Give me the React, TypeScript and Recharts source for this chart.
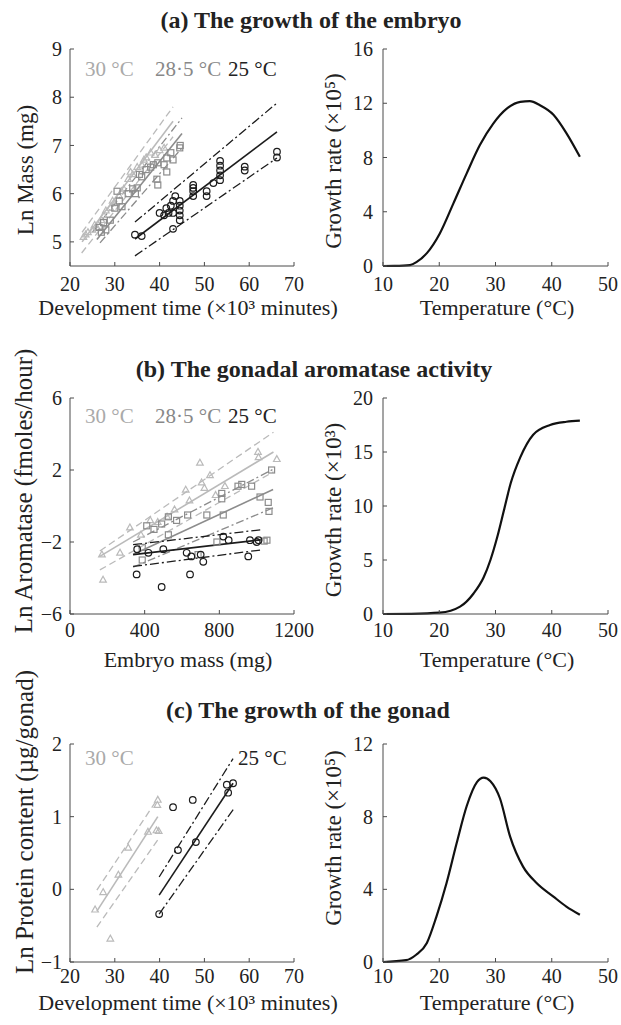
import React from "react";
import { ScatterChart, Scatter, LineChart, Line, XAxis, YAxis } from "recharts";

type Pt = [number, number];

// (a) ln mass vs development time (x10^3 min)
const embryo30: Pt[] = [
  [23, 5.1], [23.5, 5.15], [24, 5.2], [25, 5.25], [25.5, 5.35], [26, 5.3], [27, 5.45],
  [27.5, 5.55], [28, 5.65], [29, 5.7], [29.5, 5.85], [30, 5.8], [31, 5.95], [31.5, 6.05],
  [32, 6.1], [33, 6.3], [33.5, 6.45], [34, 6.4], [35, 6.55], [36, 6.6], [36.5, 6.7],
  [37, 6.75], [38, 6.85], [39, 6.8], [40, 6.9], [41, 6.95],
];
const embryo285: Pt[] = [
  [26.5, 5.3], [27, 5.2], [27.5, 5.4], [28, 5.25], [29, 5.45], [30, 5.7], [30.5, 6.05],
  [31, 5.85], [31.6, 5.73], [33, 6.0], [34, 6.1], [34.6, 6.0], [35, 6.12], [35.5, 6.4],
  [36, 6.35], [37, 6.5], [38, 6.55], [38.6, 6.6], [39.4, 6.3], [39.6, 6.18], [39.6, 6.64],
  [41, 6.6], [41.6, 6.45], [41.6, 6.74], [42.5, 6.85], [43, 6.7], [44.5, 6.95], [44.6, 7.0],
];
const embryo25: Pt[] = [
  [34.5, 5.15], [36, 5.12], [40, 5.6], [41, 5.55], [41.5, 5.7], [42, 5.6], [42.5, 5.75],
  [43, 5.27], [43, 5.6], [43, 5.85], [43.5, 5.95], [44.5, 5.45], [44.5, 5.55], [44.5, 5.65],
  [44.5, 5.75], [44.5, 5.85], [47.5, 5.95], [47.5, 6.05], [47.5, 6.12], [47.5, 6.18],
  [50.5, 5.95], [50.5, 6.05], [52, 6.22], [53.5, 6.28], [53.5, 6.38], [53.5, 6.48],
  [53.5, 6.58], [53.5, 6.68], [59, 6.48], [59, 6.56], [66.2, 6.75], [66.2, 6.87],
];
const embryoFit30: Pt[][] = [[[22.7, 5.2], [43, 7.8]], [[22.7, 5.0], [43, 7.5]], [[22.6, 4.77], [43, 7.18]]];
const embryoFit285: Pt[][] = [[[25, 5.2], [45, 7.57]], [[26, 5.05], [45, 7.25]], [[26.7, 4.98], [45, 6.95]]];
const embryoFit25: Pt[][] = [[[34.5, 5.41], [66.2, 7.88]], [[34.5, 5.06], [66.2, 7.28]], [[34.5, 4.71], [66.2, 6.74]]];

// (b) ln aromatase vs embryo mass (mg)
const arom30: Pt[] = [
  [177, -4.1], [171, -2.7], [268, -2.6], [321, -1.2], [380, -1.6], [430, -0.8], [470, -0.9],
  [520, -0.6], [560, -0.2], [620, 0.9], [640, 0.3], [696, 2.4], [705, 1.3], [720, 1.0],
  [750, 1.7], [780, 0.6], [830, 1.1], [1007, 3.0], [1010, 2.7], [1108, 2.6],
];
const arom285: Pt[] = [
  [387, -2.3], [387, -3.0], [411, -1.1], [450, -1.3], [491, -1.0], [527, -0.6], [527, -1.6],
  [571, -0.8], [630, -0.5], [686, -2.7], [733, -0.5], [787, -2.0], [813, 0.4], [813, 0.7],
  [821, -0.5], [900, 1.1], [920, 1.2], [973, 1.1], [1018, 0.5], [1062, 0.2], [1066, -0.3],
  [1080, 2.0], [1055, -1.9], [1040, -1.95],
];
const arom25: Pt[] = [
  [357, -3.8], [360, -2.4], [420, -2.6], [491, -4.5], [500, -2.4], [625, -2.6], [643, -3.8],
  [650, -2.8], [714, -3.1], [700, -2.7], [821, -1.7], [850, -1.9], [955, -2.8], [964, -1.9],
  [1000, -2.0], [1010, -1.9],
];
const aromFit30: Pt[][] = [[[160, -2.5], [1090, 4.1]], [[160, -2.8], [1090, 3.0]], [[160, -3.55], [1090, 1.9]]];
const aromFit285: Pt[][] = [[[338, -2.0], [1088, 2.04]], [[338, -2.7], [1088, 0.92]], [[338, -3.4], [1088, -0.1]]];
const aromFit25: Pt[][] = [[[338, -2.15], [1030, -1.31]], [[338, -2.7], [1030, -1.87]], [[338, -3.36], [1030, -2.43]]];

// (c) ln protein content vs development time
const gonad30: Pt[] = [
  [39.6, 1.23], [39.5, 1.16], [37.4, 0.79], [39.3, 0.81], [39.8, 0.8], [33, 0.57],
  [30.8, 0.2], [27.4, -0.04], [25.6, -0.28], [29, -0.68],
];
const gonad25: Pt[] = [
  [39.9, -0.34], [43, 1.13], [47.4, 1.23], [44.1, 0.54], [48.1, 0.65], [55, 1.44],
  [56.4, 1.46], [55.3, 1.33],
];
const gonadFit30: Pt[][] = [[[26, -0.01], [39.6, 1.25]], [[26, -0.3], [39.6, 1.0]], [[26, -0.52], [39.6, 0.68]]];
const gonadFit25: Pt[][] = [[[39.9, 0.17], [56.4, 1.8]], [[39.9, -0.08], [56.4, 1.46]], [[39.9, -0.34], [56.8, 1.13]]];

// growth rate curves vs temperature
const tempEmbryo = [10, 12, 14.8, 16, 17.8, 20.1, 22.5, 24.9, 27.2, 29.6, 32, 34.4, 36.1, 37.9, 40.3, 42.6, 45];
const rateEmbryo = [0, 0.01, 0.07, 0.3, 0.95, 2.4, 4.6, 6.85, 8.9, 10.5, 11.6, 12.1, 12.15, 11.85, 11.15, 9.8, 8.05];
const tempArom = [10, 15, 20.1, 23.7, 26.1, 27.9, 29.1, 30.3, 31.5, 32.7, 34.4, 36.7, 39.7, 42.6, 45];
const rateArom = [0, 0.02, 0.12, 0.68, 1.9, 3.4, 5.0, 7.1, 9.6, 12.1, 14.5, 16.6, 17.5, 17.8, 17.9];
const tempGonad = [10, 14.1, 15.9, 17.8, 19.5, 21.3, 23.1, 24.9, 26.7, 27.9, 29.1, 30.8, 32.6, 34.9, 37.3, 40.3, 42.6, 45];
const rateGonad = [0, 0.1, 0.4, 1.05, 2.5, 4.35, 6.55, 8.6, 9.9, 10.15, 9.95, 9.0, 6.9, 5.25, 4.35, 3.6, 3.05, 2.6];

const devTicks = [20, 30, 40, 50, 60, 70];
const massTicks = [0, 400, 800, 1200];
const tempTicks = [10, 20, 30, 40, 50];

const FONT = '"Liberation Serif", "Times New Roman", serif';
const AXIS = "#4a4a4a";
const TXT = "#222";
const C30 = "#bababa";
const C285 = "#8c8c8c";
const C25 = "#1c1c1c";
const D30 = "7 4";
const D285 = "8 3 2 3";
const D25 = "9 3 2 3";

const tick = { fontSize: 20, fill: TXT, fontFamily: FONT };
const fmt = (v: number) => (v < 0 ? `\u2212${-v}` : `${v}`);
const toXY = (pts: Pt[]) => pts.map(([x, y]) => ({ x, y }));
const hidden = () => <g />;

function marker(kind: string, color: string) {
  return (p: any) => {
    const { cx, cy } = p;
    if (kind === "tri")
      return <path d={`M${cx},${cy - 3.6}L${cx + 3.3},${cy + 2.3}L${cx - 3.3},${cy + 2.3}Z`} fill="none" stroke={color} strokeWidth={1.2} />;
    if (kind === "sq")
      return <rect x={cx - 3} y={cy - 3} width={6} height={6} fill="none" stroke={color} strokeWidth={1.2} />;
    return <circle cx={cx} cy={cy} r={3.3} fill="none" stroke={color} strokeWidth={1.2} />;
  };
}

type Fit = { lines: Pt[][]; color: string; dash: string };
type Set = { pts: Pt[]; kind: string; color: string };

function LeftPanel(props: {
  top: number; plotH: number; xDomain: number[]; xTicks: number[]; xGap: number;
  yDomain: number[]; yTicks: number[]; sets: Set[]; fits: Fit[];
}) {
  const { top, plotH, xDomain, xTicks, xGap, yDomain, yTicks, sets, fits } = props;
  return (
    <div style={{ position: "absolute", left: 0, top }}>
      <ScatterChart width={340} height={20 + plotH + 60} margin={{ top: 20, right: 46, left: 0, bottom: 0 }}>
        <XAxis type="number" dataKey="x" domain={xDomain} ticks={xTicks} interval={0} height={60}
          stroke={AXIS} tick={tick} tickSize={-4} tickMargin={xGap} tickFormatter={fmt} allowDataOverflow />
        <YAxis type="number" dataKey="y" domain={yDomain} ticks={yTicks} interval={0} width={70}
          stroke={AXIS} tick={tick} tickSize={-4} tickMargin={12} tickFormatter={fmt} allowDataOverflow />
        {fits.flatMap((f, i) =>
          f.lines.map((seg, j) => (
            <Scatter key={`f${i}-${j}`} data={toXY(seg)} fill={f.color} shape={hidden}
              line={{ stroke: f.color, strokeWidth: j === 1 ? 1.6 : 1.3, strokeDasharray: j === 1 ? undefined : f.dash }}
              isAnimationActive={false} />
          ))
        )}
        {sets.map((s, i) => (
          <Scatter key={`s${i}`} data={toXY(s.pts)} fill={s.color} shape={marker(s.kind, s.color)} isAnimationActive={false} />
        ))}
      </ScatterChart>
    </div>
  );
}

function RightPanel(props: {
  top: number; plotH: number; xGap: number; temps: number[]; rates: number[]; yDomain: number[]; yTicks: number[];
}) {
  const { top, plotH, xGap, temps, rates, yDomain, yTicks } = props;
  const data = temps.map((t, i) => ({ t, v: rates[i] }));
  return (
    <div style={{ position: "absolute", left: 310, top }}>
      <LineChart width={311} height={20 + plotH + 60} data={data} margin={{ top: 20, right: 13, left: 0, bottom: 0 }}>
        <XAxis type="number" dataKey="t" domain={[10, 50]} ticks={tempTicks} interval={0} height={60}
          stroke={AXIS} tick={tick} tickSize={-4} tickMargin={xGap} />
        <YAxis type="number" domain={yDomain} ticks={yTicks} interval={0} width={73}
          stroke={AXIS} tick={tick} tickSize={-4} tickMargin={14} />
        <Line type="monotone" dataKey="v" stroke="#111" strokeWidth={2.2} dot={false} isAnimationActive={false} />
      </LineChart>
    </div>
  );
}

function VText({ x, y, size, children }: { x: number; y: number; size: number; children: React.ReactNode }) {
  return (
    <text x={x} y={y} fontSize={size} fill={TXT} textAnchor="middle" dominantBaseline="central"
      transform={`rotate(-90 ${x} ${y})`}>{children}</text>
  );
}

function HText({ x, y, size, children, bold, anchor, color }: any) {
  return (
    <text x={x} y={y} fontSize={size} fill={color || TXT} fontWeight={bold ? 700 : 400} textAnchor={anchor || "middle"}>
      {children}
    </text>
  );
}

function TempLabels({ y, three, x25 }: { y: number; three: boolean; x25: number }) {
  return (
    <g>
      <HText x={85} y={y} size={21} anchor="start" color="#aaa">30 °C</HText>
      {three && <HText x={155} y={y} size={21} anchor="start" color="#888">28·5 °C</HText>}
      <HText x={x25} y={y} size={21} anchor="start" color="#222">25 °C</HText>
    </g>
  );
}

export default function App() {
  return (
    <div style={{ position: "absolute", left: 0, top: 0, width: 621, height: 1025, background: "#fff", fontFamily: FONT }}>
      <LeftPanel top={29} plotH={217} xDomain={[20, 70]} xTicks={devTicks} xGap={15} yDomain={[4.5, 9]} yTicks={[5, 6, 7, 8, 9]}
        fits={[
          { lines: embryoFit30, color: C30, dash: D30 },
          { lines: embryoFit285, color: C285, dash: D285 },
          { lines: embryoFit25, color: C25, dash: D25 },
        ]}
        sets={[
          { pts: embryo30, kind: "tri", color: C30 },
          { pts: embryo285, kind: "sq", color: C285 },
          { pts: embryo25, kind: "circ", color: C25 },
        ]} />
      <RightPanel top={29} plotH={217} xGap={15} temps={tempEmbryo} rates={rateEmbryo} yDomain={[0, 16]} yTicks={[0, 4, 8, 12, 16]} />

      <LeftPanel top={378} plotH={216} xDomain={[0, 1200]} xTicks={massTicks} xGap={13} yDomain={[-6, 6]} yTicks={[-6, -2, 2, 6]}
        fits={[
          { lines: aromFit30, color: C30, dash: D30 },
          { lines: aromFit285, color: C285, dash: D285 },
          { lines: aromFit25, color: C25, dash: D25 },
        ]}
        sets={[
          { pts: arom30, kind: "tri", color: C30 },
          { pts: arom285, kind: "sq", color: C285 },
          { pts: arom25, kind: "circ", color: C25 },
        ]} />
      <RightPanel top={378} plotH={216} xGap={13} temps={tempArom} rates={rateArom} yDomain={[0, 20]} yTicks={[0, 5, 10, 15, 20]} />

      <LeftPanel top={724} plotH={218} xDomain={[20, 70]} xTicks={devTicks} xGap={11} yDomain={[-1, 2]} yTicks={[-1, 0, 1, 2]}
        fits={[
          { lines: gonadFit30, color: C30, dash: D30 },
          { lines: gonadFit25, color: C25, dash: D25 },
        ]}
        sets={[
          { pts: gonad30, kind: "tri", color: C30 },
          { pts: gonad25, kind: "circ", color: C25 },
        ]} />
      <RightPanel top={724} plotH={218} xGap={11} temps={tempGonad} rates={rateGonad} yDomain={[0, 12]} yTicks={[0, 4, 8, 12]} />

      <svg width={621} height={1025} style={{ position: "absolute", left: 0, top: 0, pointerEvents: "none", fontFamily: FONT }}>
        <HText x={311} y={28} size={24} bold>(a) The growth of the embryo</HText>
        <HText x={314} y={377} size={24} bold>(b) The gonadal aromatase activity</HText>
        <HText x={308} y={718} size={24} bold>(c) The growth of the gonad</HText>

        <TempLabels y={76} three x25={228} />
        <TempLabels y={423} three x25={228} />
        <TempLabels y={765} three={false} x25={238} />

        <HText x={188} y={315} size={22}>Development time (×10³ minutes)</HText>
        <HText x={497} y={315} size={22}>Temperature (°C)</HText>
        <HText x={188} y={667} size={22}>Embryo mass (mg)</HText>
        <HText x={497} y={667} size={22}>Temperature (°C)</HText>
        <HText x={188} y={1010} size={22}>Development time (×10³ minutes)</HText>
        <HText x={497} y={1010} size={22}>Temperature (°C)</HText>

        <VText x={25} y={170} size={23}>Ln Mass (mg)</VText>
        <VText x={333} y={161} size={23}>Growth rate (×10⁵)</VText>
        <VText x={23} y={491} size={25}>Ln Aromatase (fmoles/hour)</VText>
        <VText x={333} y={510} size={23}>Growth rate (×10³)</VText>
        <VText x={24} y={822} size={25}>Ln Protein content (µg/gonad)</VText>
        <VText x={333} y={838} size={23}>Growth rate (×10⁵)</VText>
      </svg>
    </div>
  );
}
